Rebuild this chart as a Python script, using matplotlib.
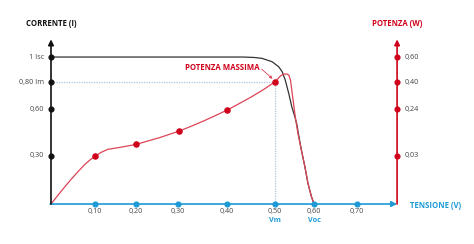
import matplotlib
matplotlib.use("Agg")
import matplotlib.pyplot as plt

# axis positions are in "chart units" (linear), labels are the printed values
x_tick_pos = [0.101, 0.194, 0.291, 0.402, 0.513, 0.602, 0.70]
x_tick_lab = ["0,10", "0,20", "0,30", "0,40", "0,50", "0,60", "0,70"]
y_tick_pos = [0.327, 0.644, 0.830, 1.0]
y_left_lab = ["0,30", "0,60", "0,80 Im", "1 Isc"]
y_right_lab = ["0,03", "0,24", "0,40", "0,60"]

# I-V curve (black)
iv_x = [0.0, 0.44, 0.465, 0.483, 0.506, 0.521, 0.529, 0.536, 0.544, 0.551, 0.559,
        0.563, 0.566, 0.573, 0.581, 0.588, 0.596, 0.602]
iv_y = [1.0, 1.0, 0.997, 0.991, 0.968, 0.934, 0.900, 0.844, 0.753, 0.662, 0.583,
        0.537, 0.480, 0.367, 0.254, 0.141, 0.050, 0.0]

# power curve (red)
p_x = [0.0, 0.016, 0.031, 0.046, 0.062, 0.077, 0.090, 0.101, 0.115, 0.130, 0.153,
       0.176, 0.195, 0.222, 0.250, 0.292, 0.320, 0.350, 0.375, 0.403, 0.430,
       0.458, 0.486, 0.513, 0.525, 0.532, 0.540, 0.544, 0.548, 0.551, 0.555,
       0.559, 0.565, 0.573, 0.581, 0.588, 0.596, 0.602]
p_y = [0.0, 0.060, 0.115, 0.168, 0.221, 0.268, 0.302, 0.325, 0.352, 0.372, 0.383,
       0.395, 0.406, 0.429, 0.453, 0.495, 0.528, 0.566, 0.600, 0.639, 0.682,
       0.728, 0.778, 0.832, 0.871, 0.884, 0.884, 0.878, 0.844, 0.776, 0.685,
       0.594, 0.481, 0.367, 0.254, 0.141, 0.050, 0.0]

# marked points on the power curve
pm_x = [0.101, 0.195, 0.292, 0.403, 0.513]
pm_y = [0.325, 0.406, 0.495, 0.639, 0.832]

vm, im = 0.513, 0.830
x_end, y_end = 0.792, 1.12

BLUE = "#1c9ad6"
RED = "#d0021b"
PINK = "#dd4457"
DOT = "#a9c6de"

plt.rcParams["font.family"] = ["Open Sans", "DejaVu Sans"]

fig = plt.figure(figsize=(4.74, 2.44), dpi=100)
ax = fig.add_axes([0, 0, 1, 1])
ax.set_xlim(-0.1167, 0.968)
ax.set_ylim(-0.272, 1.388)
ax.axis("off")

fs = 5.2

# guide lines to max power
ax.plot([0, vm], [im, im], color=DOT, lw=0.9, ls=(0, (1, 1)), zorder=1)
ax.plot([vm, vm], [0, im], color=DOT, lw=0.9, ls=(0, (1, 1)), zorder=1)

# curves
ax.plot(iv_x, iv_y, color="#333333", lw=0.9, zorder=2)
ax.plot(p_x, p_y, color=PINK, lw=0.9, zorder=3)
ax.plot(pm_x, pm_y, "o", color=RED, ms=3.7, zorder=4)

# axes with arrows
ax.annotate("", xy=(x_end, 0), xytext=(-0.002, 0),
            arrowprops=dict(arrowstyle="-|>", color=BLUE, lw=1.2,
                            mutation_scale=8, shrinkA=0, shrinkB=0), zorder=5)
ax.annotate("", xy=(0, y_end), xytext=(0, 0),
            arrowprops=dict(arrowstyle="-|>", color="#111111", lw=1.2,
                            mutation_scale=8, shrinkA=0, shrinkB=0), zorder=5)
ax.annotate("", xy=(x_end, y_end), xytext=(x_end, 0),
            arrowprops=dict(arrowstyle="-|>", color=RED, lw=1.2,
                            mutation_scale=8, shrinkA=0, shrinkB=0), zorder=5)

# tick dots and labels
ax.plot(x_tick_pos, [0] * len(x_tick_pos), "o", color=BLUE, ms=3.4, zorder=6)
for xp, lab in zip(x_tick_pos, x_tick_lab):
    ax.text(xp, -0.050, lab, ha="center", va="center", fontsize=fs, color="#444444")
ax.text(vm, -0.114, "Vm", ha="center", va="center", fontsize=fs,
        color=BLUE, fontweight="bold")
ax.text(0.602, -0.114, "Voc", ha="center", va="center", fontsize=fs,
        color=BLUE, fontweight="bold")

ax.plot([0] * len(y_tick_pos), y_tick_pos, "o", color="#111111", ms=3.4, zorder=6)
for yp, lab in zip(y_tick_pos, y_left_lab):
    ax.text(-0.016, yp, lab, ha="right", va="center", fontsize=fs, color="#444444")

ax.plot([x_end] * len(y_tick_pos), y_tick_pos, "o", color=RED, ms=3.4, zorder=6)
for yp, lab in zip(y_tick_pos, y_right_lab):
    ax.text(x_end + 0.018, yp, lab, ha="left", va="center", fontsize=fs, color="#444444")

# axis titles
ax.text(0.0, 1.225, "CORRENTE (I)", ha="center", va="center", fontsize=5.6,
        fontweight="bold", color="#111111")
ax.text(x_end, 1.225, "POTENZA (W)", ha="center", va="center", fontsize=5.6,
        fontweight="bold", color=RED)
ax.text(0.879, -0.01, "TENSIONE (V)", ha="center", va="center", fontsize=5.6,
        fontweight="bold", color=BLUE)

# max power annotation
ax.text(0.392, 0.930, "POTENZA MASSIMA", ha="center", va="center", fontsize=5.6,
        fontweight="bold", color=RED)
ax.annotate("", xy=(0.507, 0.852), xytext=(0.482, 0.918),
            arrowprops=dict(arrowstyle="-|>", color=PINK, lw=0.6,
                            mutation_scale=4, shrinkA=0, shrinkB=0))

fig.savefig("out.png", dpi=100)
